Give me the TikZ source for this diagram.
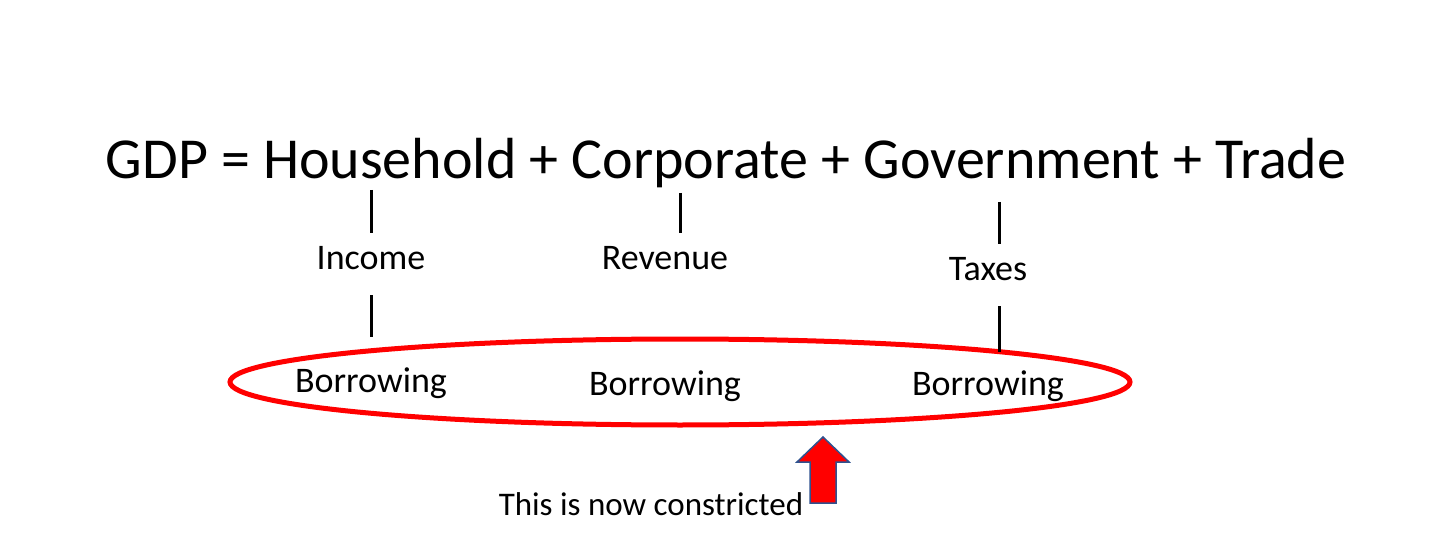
\documentclass[tikz,border=0pt]{standalone}
\usepackage{fontspec}
\setmainfont{Carlito}
\usetikzlibrary{shapes.geometric, positioning, calc}
\definecolor{ringred}{RGB}{255,0,0}
\definecolor{arrowblue}{RGB}{47,82,143}

\begin{document}
\begin{tikzpicture}[x=1pt, y=-1pt,
    eqn/.style={anchor=base, inner sep=0pt, font=\fontsize{58}{68}\selectfont},
    lbl/.style={anchor=base, inner xsep=0pt, inner ysep=15pt, text height=22pt, text depth=10pt, font=\fontsize{36}{42}\selectfont},
    bor/.style={anchor=base, inner sep=0pt, font=\fontsize{36}{42}\selectfont},
    stem/.style={line width=3pt},
    ring/.style={ellipse, draw=ringred, line width=5pt, minimum width=900pt, minimum height=86pt, inner sep=0pt}]
\useasboundingbox (0,0) rectangle (1456,545);

% Equation
\node[eqn] (gdp) at (726,179) {GDP = Household + Corporate + Government + Trade};
\coordinate (hh) at (371,190);
\coordinate (corp) at (680,193);
\coordinate (gov) at (999,202);

% Income sources
\node[lbl] (inc) at (371,270) {Income};
\node[lbl] (rev) at (665,270) {Revenue};
\node[lbl] (tax) at (988,281) {Taxes};

% Borrowing
\node[ring] (ring) at (680,382) {};
\node[bor] (b1) at (371,392) {Borrowing};
\node[bor] (b2) at (665,395) {Borrowing};
\node[bor] (b3) at (988,395) {Borrowing};

\draw[stem] (hh) -- (hh |- inc.north);
\draw[stem] (corp) -- (corp |- rev.north);
\draw[stem] (gov) -- (gov |- tax.north);
\draw[stem] (hh |- inc.south) -- (hh |- ring.north);
\draw[stem] (gov |- tax.south) -- (gov |- ring.5.7);

% Up arrow
\draw[arrowblue, fill=red, line width=1.5pt, line join=miter]
    (810,503) -- (810,462) -- (797,462) -- (823,437) -- (849,462) -- (836,462) -- (836,503) -- cycle;
\node[bor, font=\fontsize{33}{40}\selectfont] (note) at (651,515) {This is now constricted};
\end{tikzpicture}
\end{document}
